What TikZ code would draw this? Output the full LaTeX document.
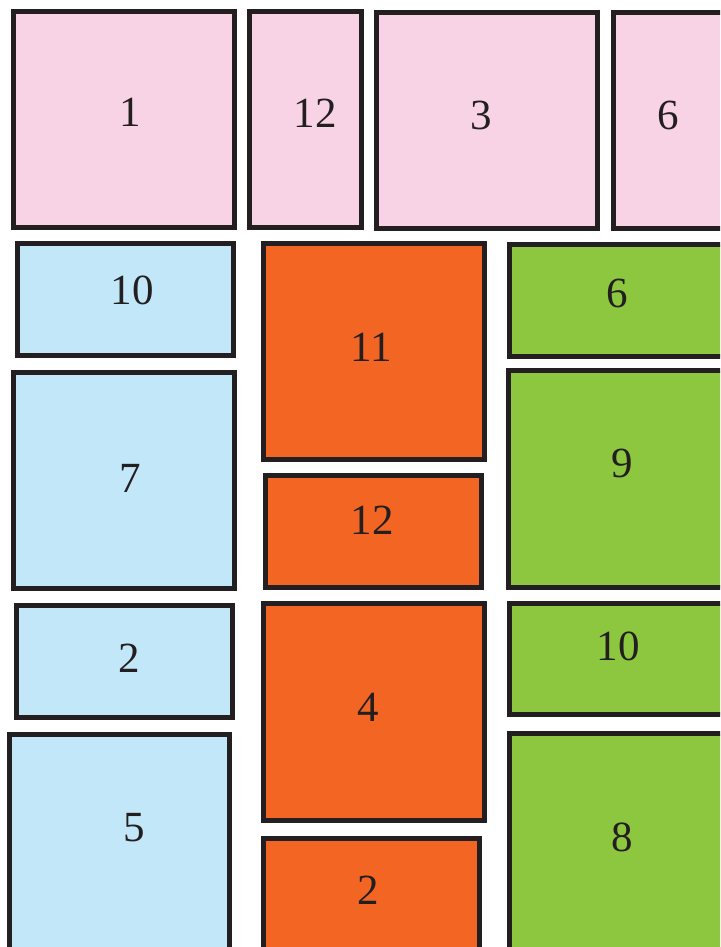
\documentclass[tikz,border=0pt]{standalone}
\usepackage{fontspec}
\setmainfont{Liberation Serif}
\definecolor{tileink}{HTML}{231F20}
\definecolor{tilepink}{HTML}{F8D3E5}
\definecolor{tileblue}{HTML}{C2E7F8}
\definecolor{tileorange}{HTML}{F26522}
\definecolor{tilegreen}{HTML}{8DC63F}

\begin{document}
\begin{tikzpicture}[
  x=1pt,
  y=-1pt,
  every node/.style={font=\fontsize{43}{43}\selectfont, tileink, inner sep=0pt},
  tile/.style={draw=tileink, line width=5pt, line join=miter}
]

  %% ---- page frame, 720 x 947 ---------------------------------------
  \useasboundingbox (0,0) rectangle (720,947);
  \clip (0,0) rectangle (720,947);

  %% ---- top row, pink -------------------------------------------------
  \foreach \xa/\ya/\xb/\yb/\lx/\ly/\n in {
      13.5/11.5/234.5/227.5/130/112/1,
      249.5/11.5/361.5/227.5/315/113/12,
      376.5/12.5/597.5/228.5/481/115/3,
      613.5/12.5/740/228.5/668/115/6}
  {
    \draw[tile, fill=tilepink] (\xa,\ya) rectangle (\xb,\yb);
    \node (pink-\n) at (\lx,\ly) {\n};
  }

  %% ---- left column, blue ---------------------------------------------
  \foreach \xa/\ya/\xb/\yb/\lx/\ly/\n in {
      17.5/243.5/233.5/355.5/132/290/10,
      13.5/372.5/234.5/588.5/130/478/7,
      16.5/605.5/232.5/717.5/129/658/2,
      9.5/734.5/229.5/960/134/828/5}
  {
    \draw[tile, fill=tileblue] (\xa,\ya) rectangle (\xb,\yb);
    \node (blue-\n) at (\lx,\ly) {\n};
  }

  %% ---- middle column, orange -----------------------------------------
  \foreach \xa/\ya/\xb/\yb/\lx/\ly/\n in {
      263.5/243.5/484.5/459.5/371/347/11,
      265.5/475.5/481.5/587.5/372/520/12,
      263.5/603.5/484.5/820.5/368/707/4,
      263.5/838.5/479.5/960/368/890/2}
  {
    \draw[tile, fill=tileorange] (\xa,\ya) rectangle (\xb,\yb);
    \node (orange-\n) at (\lx,\ly) {\n};
  }

  %% ---- right column, green -------------------------------------------
  \foreach \xa/\ya/\xb/\yb/\lx/\ly/\n in {
      509.5/244.5/740/356.5/617/293/6,
      508.5/370.5/740/587.5/622/463/9,
      509.5/603.5/740/714.5/618/646/10,
      509.5/733.5/740/960/622/837/8}
  {
    \draw[tile, fill=tilegreen] (\xa,\ya) rectangle (\xb,\yb);
    \node (green-\n) at (\lx,\ly) {\n};
  }

\end{tikzpicture}
\end{document}
